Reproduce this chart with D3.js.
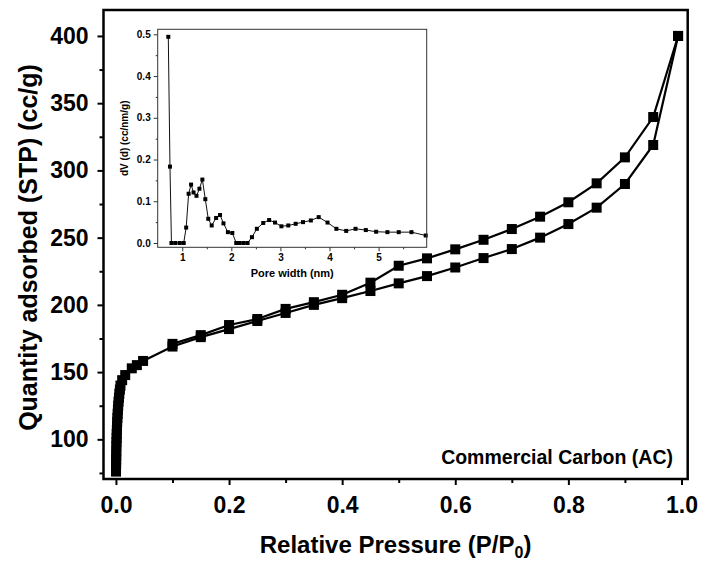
<!DOCTYPE html>
<html>
<head>
<meta charset="utf-8">
<script src="https://cdn.jsdelivr.net/npm/d3@7"></script>
<style>
  html, body { margin: 0; padding: 0; background: #fff; }
  svg { display: block; }
  text { font-family: "Liberation Sans", Arial, sans-serif; font-weight: bold; fill: #000; }
</style>
</head>
<body>
<svg id="chart" width="701" height="565"></svg>
<script>
// ---------- Main isotherm data ----------
const adsP = [0.0001,0.0002,0.0003,0.0004,0.0005,0.0006,0.0008,0.001,0.0012,0.0014,0.0016,0.0019,0.0022,0.0026,0.003,0.0035,0.004,0.0046,0.0053,0.006,0.007,0.008,0.011,0.0164,0.028,0.037,0.048,0.1,0.15,0.2,0.25,0.3,0.35,0.4,0.45,0.5,0.55,0.6,0.65,0.7,0.75,0.8,0.85,0.9,0.95,0.994];
const adsV = [76,79,82,85,88,91,95,98,101,104,107,110,113,116,119,122,125,128,131,134,137,140,144,147.8,152.8,155.2,158.3,169,176,182,188,194,200,205,210.3,216,221.4,227.8,234.8,241.5,250,260.1,272.3,289.9,318.9,400];
const desP = [0.994,0.95,0.9,0.85,0.8,0.75,0.7,0.65,0.6,0.55,0.5,0.45,0.4,0.35,0.3,0.25,0.2,0.15,0.1];
const desV = [400,339.7,309.7,290.4,276.3,265.6,256.4,248.4,241.3,234.6,229.1,216.5,207.5,202,197,189.5,185,177.5,171];

const xTicks = [0,0.2,0.4,0.6,0.8,1.0];
const xMinor = [0.1,0.3,0.5,0.7,0.9];
const yTicks = [100,150,200,250,300,350,400];
const yMinor = [75,125,175,225,275,325,375];

// ---------- Inset PSD data ----------
const poreW = [0.716,0.75,0.78,0.86,0.95,1.03,1.08,1.13,1.18,1.23,1.29,1.35,1.41,1.47,1.53,1.60,1.69,1.77,1.84,1.93,2.02,2.10,2.17,2.25,2.33,2.42,2.52,2.65,2.77,2.89,3.02,3.16,3.31,3.46,3.62,3.78,3.96,4.14,4.34,4.53,4.74,4.95,5.18,5.41,5.67,5.96];
const dV    = [0.494,0.183,0,0,0,0,0.037,0.118,0.140,0.121,0.113,0.130,0.152,0.105,0.058,0.042,0.060,0.067,0.047,0.026,0.024,0,0,0,0,0.014,0.034,0.048,0.055,0.049,0.040,0.042,0.046,0.050,0.054,0.062,0.049,0.034,0.029,0.034,0.031,0.027,0.026,0.026,0.026,0.018];
const inXTicks = [1,2,3,4,5];
const inXMinor = [1.5,2.5,3.5,4.5,5.5];
const inYTicks = [0.0,0.1,0.2,0.3,0.4,0.5];
const inYMinor = [0.05,0.15,0.25,0.35,0.45];

const svg = d3.select("#chart");

// ---------- Main plot ----------
const L = 103.5, R = 687.7, T = 10, B = 479;
const x = d3.scaleLinear().domain([-0.022, 1.011]).range([L, R]);
const y = d3.scaleLinear().domain([70.5, 419.3]).range([B, T]);

function styleAxis(g, fs) {
  g.select(".domain").remove();
  g.selectAll(".tick line").attr("stroke", "#000").attr("stroke-width", 2);
  g.selectAll(".tick text").attr("font-size", fs).attr("font-weight", "bold")
    .attr("font-family", '"Liberation Sans", Arial, sans-serif').attr("fill", "#000");
}

const gx = svg.append("g").attr("transform", `translate(0,${B})`)
  .call(d3.axisBottom(x).tickValues(xTicks).tickFormat(d3.format(".1f")).tickSize(6).tickPadding(12));
styleAxis(gx, 23);
const gxm = svg.append("g").attr("transform", `translate(0,${B})`)
  .call(d3.axisBottom(x).tickValues(xMinor).tickFormat("").tickSize(4));
styleAxis(gxm, 0);

const gy = svg.append("g").attr("transform", `translate(${L},0)`)
  .call(d3.axisLeft(y).tickValues(yTicks).tickFormat(d3.format("d")).tickSize(6).tickPadding(9));
styleAxis(gy, 23);
const gym = svg.append("g").attr("transform", `translate(${L},0)`)
  .call(d3.axisLeft(y).tickValues(yMinor).tickFormat("").tickSize(4));
styleAxis(gym, 0);

const line = d3.line().x(d => x(d[0])).y(d => y(d[1]));
const ads = adsP.map((p, i) => [p, adsV[i]]);
const des = desP.map((p, i) => [p, desV[i]]);

[ads, des].forEach(s => {
  svg.append("path").datum(s).attr("d", line)
    .attr("fill", "none").attr("stroke", "#000").attr("stroke-width", 2.2);
});
const ms = 10;
[ads, des].forEach(s => {
  svg.append("g").selectAll("rect").data(s).join("rect")
    .attr("x", d => x(d[0]) - ms / 2).attr("y", d => y(d[1]) - ms / 2)
    .attr("width", ms).attr("height", ms).attr("fill", "#000");
});

svg.append("rect").attr("x", L).attr("y", T).attr("width", R - L).attr("height", B - T)
  .attr("fill", "none").attr("stroke", "#000").attr("stroke-width", 2.5);

svg.append("text").attr("x", (L + R) / 2).attr("y", 553).attr("text-anchor", "middle")
  .attr("font-size", 24)
  .html('Relative Pressure (P/P<tspan font-size="16" dy="5">0</tspan><tspan dy="-5">)</tspan>');

svg.append("text").attr("transform", `translate(37,${(T + B) / 2 + 3}) rotate(-90)`)
  .attr("text-anchor", "middle").attr("font-size", 25)
  .text("Quantity adsorbed (STP) (cc/g)");

svg.append("text").attr("x", 673).attr("y", 464).attr("text-anchor", "end")
  .attr("font-size", 19.5).text("Commercial Carbon (AC)");

// ---------- Inset ----------
const iL = 157.7, iR = 426.7, iT = 29.3, iB = 247.3;
const ix = d3.scaleLinear().domain([0.5, 5.98]).range([iL, iR]);
const iy = d3.scaleLinear().domain([-0.0103, 0.512]).range([iB, iT]);

function styleInset(g) {
  g.select(".domain").remove();
  g.selectAll(".tick line").attr("stroke", "#333").attr("stroke-width", 1);
  g.selectAll(".tick text").attr("font-size", 10).attr("font-weight", "bold")
    .attr("font-family", '"Liberation Sans", Arial, sans-serif').attr("fill", "#222");
}
const ixg = svg.append("g").attr("transform", `translate(0,${iB})`)
  .call(d3.axisBottom(ix).tickValues(inXTicks).tickFormat(d3.format("d")).tickSize(4).tickPadding(3));
styleInset(ixg);
const ixm = svg.append("g").attr("transform", `translate(0,${iB})`)
  .call(d3.axisBottom(ix).tickValues(inXMinor).tickFormat("").tickSize(2));
styleInset(ixm);
const iyg = svg.append("g").attr("transform", `translate(${iL},0)`)
  .call(d3.axisLeft(iy).tickValues(inYTicks).tickFormat(d3.format(".1f")).tickSize(4).tickPadding(3));
styleInset(iyg);
const iym = svg.append("g").attr("transform", `translate(${iL},0)`)
  .call(d3.axisLeft(iy).tickValues(inYMinor).tickFormat("").tickSize(2));
styleInset(iym);

const psd = poreW.map((w, i) => [w, dV[i]]);
svg.append("path").datum(psd)
  .attr("d", d3.line().x(d => ix(d[0])).y(d => iy(d[1])))
  .attr("fill", "none").attr("stroke", "#111").attr("stroke-width", 1);
svg.append("g").selectAll("rect").data(psd).join("rect")
  .attr("x", d => ix(d[0]) - 2).attr("y", d => iy(d[1]) - 2)
  .attr("width", 4).attr("height", 4).attr("fill", "#000");

svg.append("rect").attr("x", iL).attr("y", iT).attr("width", iR - iL).attr("height", iB - iT)
  .attr("fill", "none").attr("stroke", "#333").attr("stroke-width", 1);

svg.append("text").attr("x", (iL + iR) / 2).attr("y", 277).attr("text-anchor", "middle")
  .attr("font-size", 11).attr("fill", "#222").text("Pore width (nm)");
svg.append("text").attr("transform", `translate(128,${(iT + iB) / 2}) rotate(-90)`)
  .attr("text-anchor", "middle").attr("font-size", 10).attr("fill", "#222")
  .text("dV (d) (cc/nm/g)");
</script>
</body>
</html>
